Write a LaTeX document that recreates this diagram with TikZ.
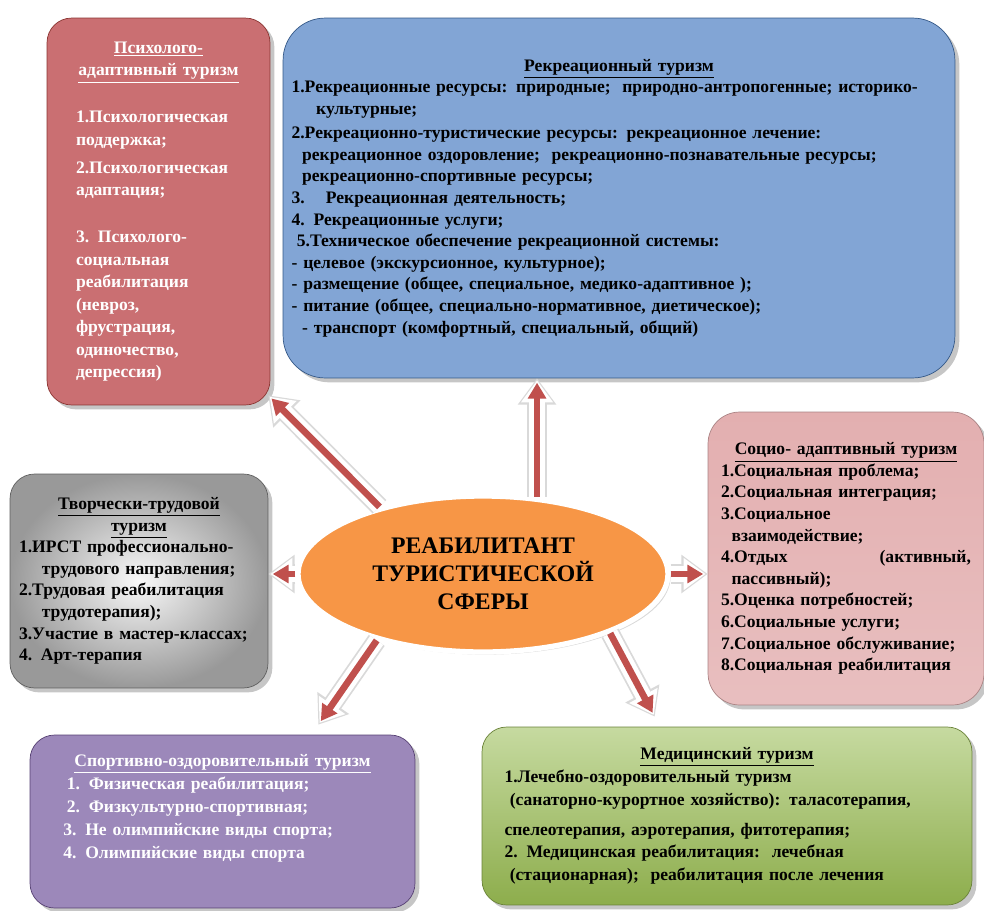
\documentclass[tikz,border=0pt]{standalone}
\usepackage{fontspec}
\setmainfont{Liberation Serif}
\usetikzlibrary{arrows.meta,shapes.geometric,shadows,calc}

\definecolor{psychred}{HTML}{B94643}
\definecolor{psychtop}{HTML}{CA6F72}
\definecolor{recrblue}{HTML}{4677B5}
\definecolor{recrtop}{HTML}{82A5D5}
\definecolor{sociopink}{HTML}{F5E3E3}
\definecolor{sociotop}{HTML}{E3AFB0}
\definecolor{sportviolet}{HTML}{73569A}
\definecolor{sporttop}{HTML}{9C88BA}
\definecolor{medgreen}{HTML}{A5C16A}
\definecolor{medtop}{HTML}{C6DAA0}
\definecolor{medbottom}{HTML}{8DAD4C}
\definecolor{hubfill}{HTML}{F79646}
\definecolor{arrred}{HTML}{C0504D}

\begin{document}
\begin{tikzpicture}[x=0.02cm, y=-0.02cm,
    box/.style={rounded corners=14pt, draw=#1!75!black, thin, align=left,
        font=\bfseries\fontsize{10}{12.3}\selectfont, inner sep=0pt,
        drop shadow={shadow xshift=2.5pt, shadow yshift=-2.5pt, opacity=.45}},
    hub/.style={ellipse, fill=hubfill, draw=white, line width=3pt,
        minimum width=7.4cm, minimum height=3.12cm, align=center, inner sep=0pt,
        font=\bfseries\fontsize{13.5}{16}\selectfont,
        drop shadow={shadow xshift=1.5pt, shadow yshift=-1.5pt, opacity=.3}},
    arr/.style={line width=3.8pt, draw=arrred, shorten >=2.5pt,
        -{Triangle[width=10pt,length=9pt]},
        preaction={draw=gray!30, line width=11pt, shorten >=0pt,
            -{Triangle[width=21pt,length=15pt]}},
        preaction={draw=white, line width=9pt, shorten >=1.2pt,
            -{Triangle[width=17.5pt,length=12.5pt]}}}]

    \useasboundingbox (0,0) rectangle (984,910);

    % Boxes
    \node[box=psychred, top color=psychtop, middle color=psychred, bottom color=psychtop,
        minimum width=4.46cm, minimum height=7.74cm, text width=3.3cm, text=white,
        font=\bfseries\fontsize{10}{12.8}\selectfont] at (158.5,211.5) (psych) {%
        {\centering\underline{Психолого-}\\\underline{адаптивный туризм}\par}
        \vspace{14pt}
        1.Психологическая\\
        поддержка;\\[3pt]
        2.Психологическая\\
        адаптация;\\[14pt]
        3. Психолого-\\
        социальная\\
        реабилитация\\
        (невроз,\\
        фрустрация,\\
        одиночество,\\
        депрессия)};

    \node[box=recrblue, top color=recrtop, middle color=recrblue, bottom color=recrtop,
        rounded corners=24pt, minimum width=13.44cm, minimum height=7.2cm, text width=13.1cm]
        at (619,198) (recr) {%
        {\centering\underline{Рекреационный туризм}\par}
        1.Рекреационные ресурсы: природные;\ \ природно-антропогенные; историко-\\
        \hspace*{1.4em}культурные;\\[1.5pt]
        2.Рекреационно-туристические ресурсы: рекреационное лечение:\\
        \hspace*{0.6em}рекреационное оздоровление;\ \ рекреационно-познавательные ресурсы;\\
        \hspace*{0.6em}рекреационно-спортивные ресурсы;\\
        3.\hspace{1.2em}Рекреационная деятельность;\\
        4. Рекреационные услуги;\\
        \hspace*{0.3em}5.Техническое обеспечение рекреационной системы:\\
        - целевое (экскурсионное, культурное);\\
        - размещение (общее, специальное, медико-адаптивное );\\
        - питание (общее, специально-нормативное, диетическое);\\
        \hspace*{0.6em}- транспорт (комфортный, специальный, общий)};

    \node[box=sociotop, top color=sociotop, middle color=sociopink, bottom color=sociotop!70!sociopink,
        rounded corners=18pt, minimum width=5.52cm, minimum height=5.86cm, text width=5.0cm]
        at (846,558.5) (socio) {%
        {\centering\underline{Социо- адаптивный туризм}\par}
        1.Социальная проблема;\\
        2.Социальная интеграция;\\
        3.Социальное\\
        \hspace*{0.6em}взаимодействие;\\
        4.Отдых \hfill (активный,\\
        \hspace*{0.6em}пассивный);\\
        5.Оценка потребностей;\\
        6.Социальные услуги;\\
        7.Социальное обслуживание;\\
        8.Социальная реабилитация};

    \node[box=gray, inner color=gray!5, outer color=gray!80,
        minimum width=5.16cm, minimum height=4.28cm, text width=4.8cm]
        at (139,581) (creat) {%
        {\centering\underline{Творчески-трудовой}\\\underline{туризм}\par}
        1.ИРСТ профессионально-\\
        \hspace*{1.3em}трудового направления;\\
        2.Трудовая реабилитация\\
        \hspace*{1.3em}трудотерапия);\\
        3.Участие в мастер-классах;\\
        4. Арт-терапия};

    \node[box=sportviolet, top color=sporttop, middle color=sportviolet, bottom color=sporttop,
        minimum width=7.7cm, minimum height=3.46cm, text width=7.0cm, text=white,
        font=\bfseries\fontsize{10}{13.2}\selectfont] at (222.5,821.5) (sport) {%
        {\centering\underline{Спортивно-оздоровительный туризм}\par}
        \hspace*{11pt}1. Физическая реабилитация;\\
        \hspace*{11pt}2. Физкультурно-спортивная;\\
        \hspace*{9pt}3. Не олимпийские виды спорта;\\
        \hspace*{9pt}4. Олимпийские виды спорта\\[4pt]\mbox{}};

    \node[box=medbottom, top color=medtop, middle color=medgreen, bottom color=medbottom,
        minimum width=9.8cm, minimum height=3.56cm, text width=8.9cm,
        font=\bfseries\fontsize{10}{13}\selectfont] at (727,816) (med) {%
        {\centering\underline{Медицинский туризм}\par}
        1.Лечебно-оздоровительный туризм\\
        \hspace*{0.3em}(санаторно-курортное хозяйство): таласотерапия,\\[4pt]
        спелеотерапия, аэротерапия, фитотерапия;\\
        2. Медицинская реабилитация:\ \ лечебная\\
        \hspace*{0.3em}(стационарная);\ \ реабилитация после лечения};

    % Centre
    \node[hub] at (483,574) (hub) {РЕАБИЛИТАНТ\\ТУРИСТИЧЕСКОЙ\\СФЕРЫ};

    % Arrows
    \draw[arr] (hub.147) -- ($(psych.south east)+(-2,-10)$);
    \draw[arr] (hub.55) -- (hub.55 |- recr.south);
    \draw[arr] (hub.west) -- (hub.west -| creat.east);
    \draw[arr] (hub.east) -- (hub.east -| socio.west);
    \draw[arr] (hub.212) -- ($(sport.north east)+(-97,-10)$);
    \draw[arr] (hub.335) -- ($(med.north west)+(173,-10)$);

\end{tikzpicture}
\end{document}
